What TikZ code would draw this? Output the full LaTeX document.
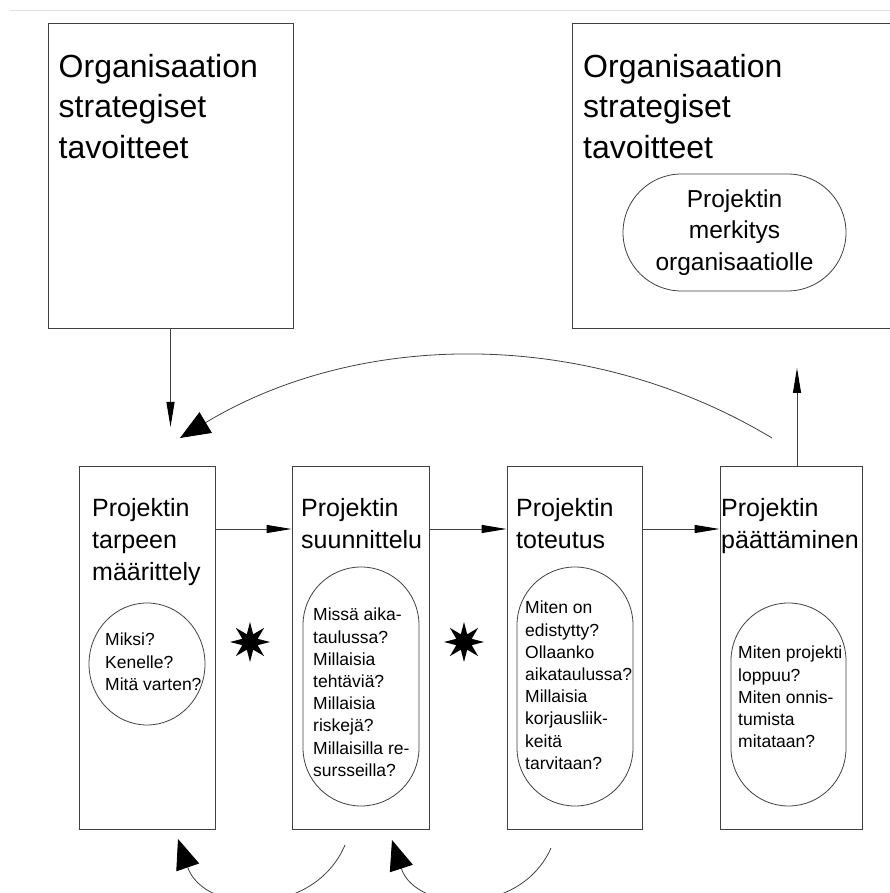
\documentclass[tikz,border=0pt]{standalone}
\usepackage{fontspec}
\setmainfont{Liberation Sans}
\usetikzlibrary{arrows.meta,shapes.geometric}

\tikzset{
	box/.style={draw=\EDGE, line width=0.9pt, inner sep=0pt},
	capsule/.style={draw=\EDGE, line width=0.8pt, rounded corners=#1, inner sep=0pt},
	ring/.style={ellipse, draw=\EDGE, line width=0.8pt, inner sep=0pt},
	bigtitle/.style={anchor=north west, align=left, inner sep=0pt, font=\fontsize{32}{40.5}\selectfont},
	stagetitle/.style={anchor=north west, align=left, inner sep=0pt, font=\fontsize{25}{32}\selectfont},
	question/.style={anchor=north west, align=left, inner sep=0pt, font=\fontsize{17.5}{22.2}\selectfont},
	spark/.style={star, star points=8, star point ratio=2.4, minimum size=40pt, inner sep=0pt, fill=black},
	flow/.style={draw=\EDGE, line width=0.9pt, -{Triangle[length=25pt,width=8pt,color=black]}},
	backflow/.style={draw=\EDGE, line width=0.8pt, -{Triangle[length=30pt,width=24pt,color=black]}}
}

\begin{document}
\begin{tikzpicture}[x=1pt,y=1pt]

\def\EDGE{black!75}
	\useasboundingbox (0,0) rectangle (890,893);
	\clip (0,0) rectangle (890,893);
	\draw[gray!25, line width=1pt] (10,882) -- (890,882);

	\node[box, minimum width=245pt, minimum height=305pt] (goals) at (170.5,717.5) {};
	\node[box, minimum width=333pt, minimum height=305pt] (goalsend) at (738.5,717.5) {};
	\node[bigtitle] (goalstitle) at (58.5,839) {Organisaation\\strategiset\\tavoitteet};
	\node[bigtitle] (goalsendtitle) at (583,839) {Organisaation\\strategiset\\tavoitteet};
	\node[capsule=58.5pt, minimum width=223pt, minimum height=117pt, align=center, font=\fontsize{24.5}{31.5}\selectfont] (meaning) at (734.5,660.5) {Projektin\\merkitys\\organisaatiolle};

	\node[box, minimum width=136pt, minimum height=363pt] (need) at (147,245.5) {};
	\node[box, minimum width=137pt, minimum height=363pt] (plan) at (360.5,245.5) {};
	\node[box, minimum width=135pt, minimum height=363pt] (exec) at (574.5,245.5) {};
	\node[box, minimum width=142pt, minimum height=363pt] (close) at (791,245.5) {};

	\node[stagetitle] (needtitle) at (92,395) {Projektin\\tarpeen\\määrittely};
	\node[stagetitle] (plantitle) at (301,395) {Projektin\\suunnittelu};
	\node[stagetitle] (exectitle) at (516,395) {Projektin\\toteutus};
	\node[stagetitle] (closetitle) at (721,395) {Projektin\\päättäminen};

	\node[ring, minimum width=116pt, minimum height=122pt] (needring) at (147,229) {};
	\node[capsule=58pt, minimum width=116pt, minimum height=239pt] (planring) at (361,206.5) {};
	\node[capsule=58pt, minimum width=116pt, minimum height=239pt] (execring) at (575,206.5) {};
	\node[capsule=57.5pt, minimum width=115pt, minimum height=203pt] (closering) at (788.5,188.5) {};

	\node[question] (needq) at (105,260) {Miksi?\\Kenelle?\\Mitä varten?};
	\node[question] (planq) at (313,285) {Missä aika-\\taulussa?\\Millaisia\\tehtäviä?\\Millaisia\\riskejä?\\Millaisilla re-\\sursseilla?};
	\node[question] (execq) at (525,292) {Miten on\\edistytty?\\Ollaanko\\aikataulussa?\\Millaisia\\korjausliik-\\keitä\\tarvitaan?};
	\node[question] (closeq) at (738,247) {Miten projekti\\loppuu?\\Miten onnis-\\tumista\\mitataan?};

	\node[spark] (sparkone) at (250,251) {};
	\node[spark] (sparktwo) at (464,251) {};

	\coordinate (row) at (0,364);
	\draw[flow] (need.east |- row) -- (plan.west |- row);
	\draw[flow] (plan.east |- row) -- (exec.west |- row);
	\draw[flow] (exec.east |- row) -- (close.west |- row);

	\coordinate (goalsin) at (170.5,466);
	\draw[flow] (goals.south) -- (goalsin);
	\coordinate (goalsout) at (797,525);
	\draw[flow] (close.north -| goalsout) -- (goalsout);

	\coordinate (backstart) at (772,455);
	\coordinate (backend) at (180,455);
	\draw[backflow] (backstart) to[bend right=31, looseness=0.92] (backend);

	\coordinate (reviewstart) at (345,48);
	\coordinate (reviewend) at (178,54);
	\draw[backflow] (reviewstart) to[bend left=69, looseness=1.22] (reviewend);
	\coordinate (steerstart) at (551,45);
	\coordinate (steerend) at (392,53);
	\draw[backflow] (steerstart) to[bend left=69, looseness=1.22] (steerend);

\end{tikzpicture}
\end{document}
